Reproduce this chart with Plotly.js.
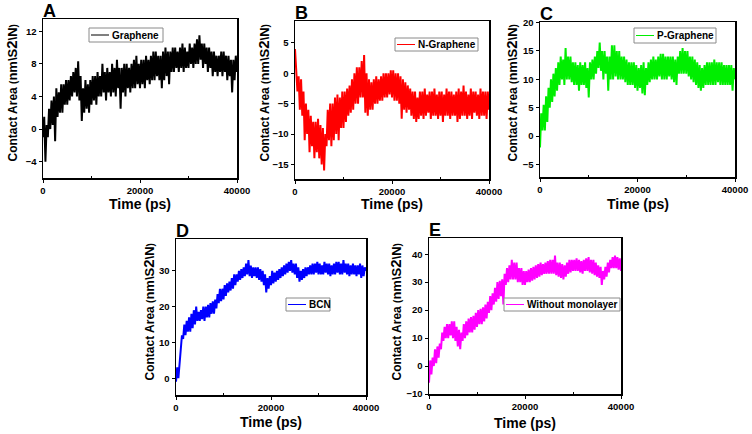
<!DOCTYPE html>
<html>
<head>
<meta charset="utf-8">
<script src="https://cdn.plot.ly/plotly-3.0.1.min.js"></script>
<style>
html,body{margin:0;padding:0;background:#fff;}
#chart{width:752px;height:434px;}
</style>
</head>
<body>
<div id="chart"></div>
<script>
// ---- data (time grid step 250 ps, 0..40000 ps) ----
const timeStepPs = 250;
const seriesNames = ["Graphene", "N-Graphene", "P-Graphene", "BCN", "Without monolayer"];
const panelLabels = ["A", "B", "C", "D", "E"];
const xTickVals = [0, 20000, 40000];

const graphene = [
 -1, 1.5, -4, 0.5,   -1, 2.5, 0, 3.5,   0.5, 4, -1.5, 5,   1.5, 4.5, 2, 5.5,
 2, 5.5, 3, 6,   3, 6, 3.5, 6.5,   4, 7, 4.5, 7.5,   4, 8.3, 3.5, 6.5,
 1, 5, 2, 6,   2.5, 5.5, 2, 6,   3, 6.5, 3.5, 6.5,   3, 7, 4, 6.5,
 4, 8, 4.5, 7,   3.5, 7.5, 4.5, 7,   4, 8, 4.5, 7.5,   4, 8.5, 5, 7.5,
 2.5, 7.5, 4.5, 8,   4, 8, 5, 7.5,   4.5, 8, 5, 8.5,   5, 9, 5.5, 8,
 5, 8.5, 5.5, 8.5,   5, 9, 6, 8.5,   5.5, 9, 6, 9.5,   6, 9.5, 6.5, 9,
 6, 9, 5, 9.5,   6, 10, 6.5, 9.5,   5.5, 9.5, 7, 10,   7, 10, 7.5, 9.5,
 7, 10, 7.5, 10.5,   7, 10, 7.5, 9.5,   7.5, 10.5, 8, 10,   7.5, 10.5, 8, 11,
 8, 11.5, 8.5, 10.5,   7.5, 10.5, 8, 10,   7, 10, 7.5, 9.5,   6.5, 9.5, 7, 9,
 6.5, 9, 7, 9.5,   6.5, 9.5, 7, 9,   6, 9, 6.5, 8.5,   4.5, 8.5, 6, 9,
 7
];
const nGraphene = [
 4, 1, -3, -0.5,   -6, -1, -7, -3,   -11, -5, -10, -6,   -13, -7, -12, -8,
 -14, -8, -13, -7.5,   -14, -8.5, -15, -9,   -16, -10, -12, -6,   -11, -5, -12, -5,
 -11, -4, -10, -3.5,   -11, -4, -9, -3,   -9, -3, -8, -2.5,   -7, -2, -6.5, -1,
 -6, 0, -5, 1,   -5, 1, -4, 2,   -4, 3, -6.5, 0,   -7, -1, -6, -1.5,
 -6, -1, -5, -0.5,   -5, -1, -4.5, -0.5,   -4.5, 0, -4, 0,   -4, 0, -3.5, 0.5,
 -4, 0.5, -4.5, 0,   -4.5, 0, -5, -0.5,   -7.5, -1, -6, -1.5,   -6.5, -2, -6, -2.5,
 -7, -3, -7.5, -3,   -8, -4, -7.5, -3,   -7, -3, -7.5, -2.5,   -7, -3.5, -6.5, -3,
 -7.5, -3, -7, -2.5,   -7, -3.5, -7.5, -3,   -7, -3, -8, -3.5,   -7, -2.5, -7, -3,
 -7.5, -3, -7, -3.5,   -7, -3, -8, -2.5,   -7.5, -3, -7, -2,   -7, -3, -7.5, -3.5,
 -7, -2.5, -7.5, -3,   -6.5, -3, -7, -3.5,   -7.5, -2.5, -7, -3,   -7, -3, -7.5, -3,
 -6
];
const pGraphene = [
 -2, 4, 1, 5.5,   1, 7, 2.5, 8.5,   5, 10, 6, 11,   7, 12, 8, 13,
 9, 14, 10, 13.5,   9, 15.5, 10, 14,   10, 14, 9.5, 13,   9, 13, 9, 12.5,
 8, 13, 9, 12.5,   9, 13, 8.5, 12,   6.8, 13, 10, 13.5,   10, 14, 11, 15,
 12, 16.5, 11.5, 15,   10, 15, 11, 14,   8, 14, 10, 16,   10, 16, 10.5, 15,
 10, 15, 10, 14,   10, 14, 9.5, 13.5,   9, 13, 9, 13,   9, 13, 8.5, 12.5,
 8, 12, 8.5, 12.5,   7.5, 13, 7.2, 12,   9, 13, 9.5, 13.5,   10, 14, 10, 13.5,
 10, 14, 10.5, 14.5,   10, 14.5, 10, 14,   10, 14, 10.5, 14,   10, 14, 9.5, 13.5,
 9, 14, 11, 15,   11, 15.5, 11, 15,   11, 15, 10.5, 14,   10, 14, 9.5, 13.5,
 9, 13, 8.5, 12.5,   8, 12, 8.5, 12.5,   9, 13, 9, 13,   9, 13, 9, 13.5,
 9, 13, 9.5, 13,   9, 13, 9, 12.5,   9, 12.5, 9, 12.5,   9, 12.5, 8, 12,
 10
];
const bcn = [
 -1, 3, 0, 4,   7, 12, 11, 15,   12, 16, 13, 17,   13, 18, 14, 19,
 15, 20, 16, 18.5,   16, 19, 16.5, 20,   16, 20, 17, 20.5,   17, 21, 18, 21.5,
 18, 22, 19.5, 23.5,   21, 25, 21.5, 25,   22, 26, 23, 26.5,   24, 27, 24.5, 28,
 25, 29, 26, 29,   27, 30, 27.5, 30.5,   28, 31, 28.5, 32,   29, 33, 28.5, 31.5,
 28, 31, 28.5, 31,   28, 31, 27.5, 30.5,   27, 30, 26, 29,   24, 28, 25, 28.5,
 26, 30, 26.5, 29.5,   27, 30, 27.5, 30.5,   28, 31, 28.5, 31.5,   29, 32, 29.5, 32.5,
 30, 33, 29.5, 32,   29, 32, 28, 31,   27, 30, 27.5, 30.5,   28, 31, 28.5, 31,
 29, 31.5, 29, 32,   29, 32, 29.5, 32.5,   29, 32, 29, 31.5,   29, 32.5, 29.5, 32,
 29, 32, 28.5, 31.5,   29, 32, 29, 32.5,   29.5, 32.5, 29, 32,   29, 33, 29.5, 32,
 29, 32, 28.5, 31.5,   29, 32, 29, 31.5,   28.5, 31.5, 29, 32,   28, 31.5, 28.5, 31,
 30
];
const withoutMonolayer = [
 -6, 2, -3, 3,   0, 6, 1, 7,   3, 8, 6, 12,   9, 14, 10, 15,
 10, 15, 11, 16,   10, 16, 9, 14,   7, 13, 6, 12,   9, 15, 10, 16,
 11, 17, 12, 17.5,   12, 18, 13, 19,   14, 20, 15, 20.5,   15, 21, 16, 22,
 17, 23, 19, 25,   20, 26, 22, 28,   23, 30, 24, 30.5,   25, 31, 22, 33,
 29, 35, 30, 36,   31, 38, 31, 37,   31, 37, 30, 35,   30, 35, 29, 34,
 29, 34, 30, 34.5,   30, 35, 30.5, 35.5,   31, 36, 31.5, 36.5,   32, 37, 32.5, 36.5,
 33, 37, 33, 37.5,   33, 38, 33, 38,   33, 39.5, 32.5, 37,   32, 37, 31.5, 36.5,
 31, 36, 32, 37,   33, 38, 33.5, 38,   34, 38, 34, 38.5,   34, 38, 33.5, 37.5,
 33, 38, 34, 38.5,   34, 39, 33.5, 38,   33, 38, 32.5, 37,   32, 36, 31.5, 35.5,
 29, 34, 31, 35.5,   32, 37, 33.5, 38,   35, 39, 35, 39.5,   35, 39, 34.5, 38.5,
 34
];

// ---- layout config ----
const W = 752, H = 434;
const allSeries = [graphene, nGraphene, pGraphene, bcn, withoutMonolayer];
const colors = ["#000000", "#ff0000", "#00ee00", "#0000ff", "#ff00ff"];
// pixel boxes [left, right, top, bottom]
const boxes = [
  [43, 237, 19, 178],
  [295, 489, 21, 179],
  [540, 735, 22, 177],
  [176, 366, 239, 395],
  [429, 621, 238, 394]
];
const yRanges = [[-6, 13.5], [-17.4, 8.6], [-7.2, 20.1], [-4.7, 38.9], [-10, 45.8]];
const yDticks = [4, 5, 5, 10, 10];
const yTitleX = [11, 263, 511, 148, 395];
const yTitleBottom = [164, 164, 164, 383, 383];
const xTitleY = [204, 204, 204, 422, 423];
// legend boxes [left, top, right, bottom] in px
const legendBoxes = [
  [89, 28, 163, 42],
  [395, 38, 478, 51],
  [634, 28, 716, 43],
  [286, 298, 330, 311],
  [504, 298, 620, 311]
];

const FONT = "Liberation Sans, Arial, sans-serif";
const px2x = p => p / W;
const px2y = p => 1 - p / H;

const traces = [];
const layout = {
  width: W, height: H,
  margin: {l: 0, r: 0, t: 0, b: 0},
  paper_bgcolor: "#ffffff",
  plot_bgcolor: "#ffffff",
  showlegend: false,
  font: {family: FONT, color: "#000"},
  annotations: [],
  shapes: []
};

const yTitle = "Contact Area <span style='font-size:10px'>(</span><span style='font-size:13px'>nm\\S</span><span style='font-size:15px'>2</span><span style='font-size:13px'>\\N</span><span style='font-size:10px'>)</span>";

allSeries.forEach((vals, i) => {
  const n = i + 1;
  const xa = n === 1 ? "x" : "x" + n;
  const ya = n === 1 ? "y" : "y" + n;
  const times = vals.map((_, k) => k * timeStepPs);
  traces.push({
    x: times, y: vals, type: "scatter", mode: "lines",
    name: seriesNames[i],
    line: {color: colors[i], width: 2},
    xaxis: xa, yaxis: ya, hoverinfo: "skip"
  });
  const b = boxes[i];
  const axCommon = {
    showline: true, linecolor: "#000", linewidth: 1.5, mirror: true,
    showgrid: false, zeroline: false,
    ticks: "outside", ticklen: 3, tickwidth: 1, tickcolor: "#000",
    tickfont: {family: FONT, size: 9.5, color: "#000", weight: "bold"}
  };
  layout[n === 1 ? "xaxis" : "xaxis" + n] = Object.assign({}, axCommon, {
    domain: [px2x(b[0]), px2x(b[1])],
    anchor: ya,
    range: [0, 40000],
    tickvals: xTickVals,
    ticktext: xTickVals.map(String),
    minor: {tickvals: [10000, 30000], ticks: "inside", ticklen: 2, tickcolor: "#000"}
  });
  layout[n === 1 ? "yaxis" : "yaxis" + n] = Object.assign({}, axCommon, {
    domain: [px2y(b[3]), px2y(b[2])],
    anchor: xa,
    range: yRanges[i],
    dtick: yDticks[i],
    tick0: 0
  });
  // legend: frame, line sample, name
  const lb = legendBoxes[i];
  const midY = (lb[1] + lb[3]) / 2;
  layout.shapes.push({
    type: "rect", xref: "paper", yref: "paper",
    x0: px2x(lb[0]), x1: px2x(lb[2]), y0: px2y(lb[3]), y1: px2y(lb[1]),
    line: {color: "#8a8a8a", width: 1}, fillcolor: "#ffffff"
  });
  layout.shapes.push({
    type: "line", xref: "paper", yref: "paper",
    x0: px2x(lb[0] + 2), x1: px2x(lb[0] + 20), y0: px2y(midY), y1: px2y(midY),
    line: {color: colors[i], width: 1}
  });
  layout.annotations.push({
    xref: "paper", yref: "paper",
    x: px2x(lb[0] + 21), y: px2y(midY),
    xanchor: "left", yanchor: "middle", showarrow: false, align: "left",
    text: "<b>" + seriesNames[i] + "</b>",
    font: {family: FONT, size: 10, color: "#000"}
  });
  // panel letter
  layout.annotations.push({
    xref: "paper", yref: "paper", x: px2x(b[0] - 2), y: px2y(b[2] - 8),
    xanchor: "left", yanchor: "middle", showarrow: false,
    text: "<b>" + panelLabels[i] + "</b>",
    font: {family: FONT, size: 18, color: "#000"}
  });
  // y title
  layout.annotations.push({
    xref: "paper", yref: "paper", x: px2x(yTitleX[i]), y: px2y(yTitleBottom[i]),
    xanchor: "center", yanchor: "bottom", textangle: -90, showarrow: false,
    text: "<b>" + yTitle + "</b>",
    font: {family: FONT, size: 12, color: "#000"}
  });
  // x title
  layout.annotations.push({
    xref: "paper", yref: "paper", x: px2x((b[0] + b[1]) / 2), y: px2y(xTitleY[i]),
    xanchor: "center", yanchor: "middle", showarrow: false,
    text: "<b>Time (ps)</b>",
    font: {family: FONT, size: 14, color: "#000"}
  });
});

Plotly.newPlot("chart", traces, layout, {displayModeBar: false, staticPlot: true});
</script>
</body>
</html>
